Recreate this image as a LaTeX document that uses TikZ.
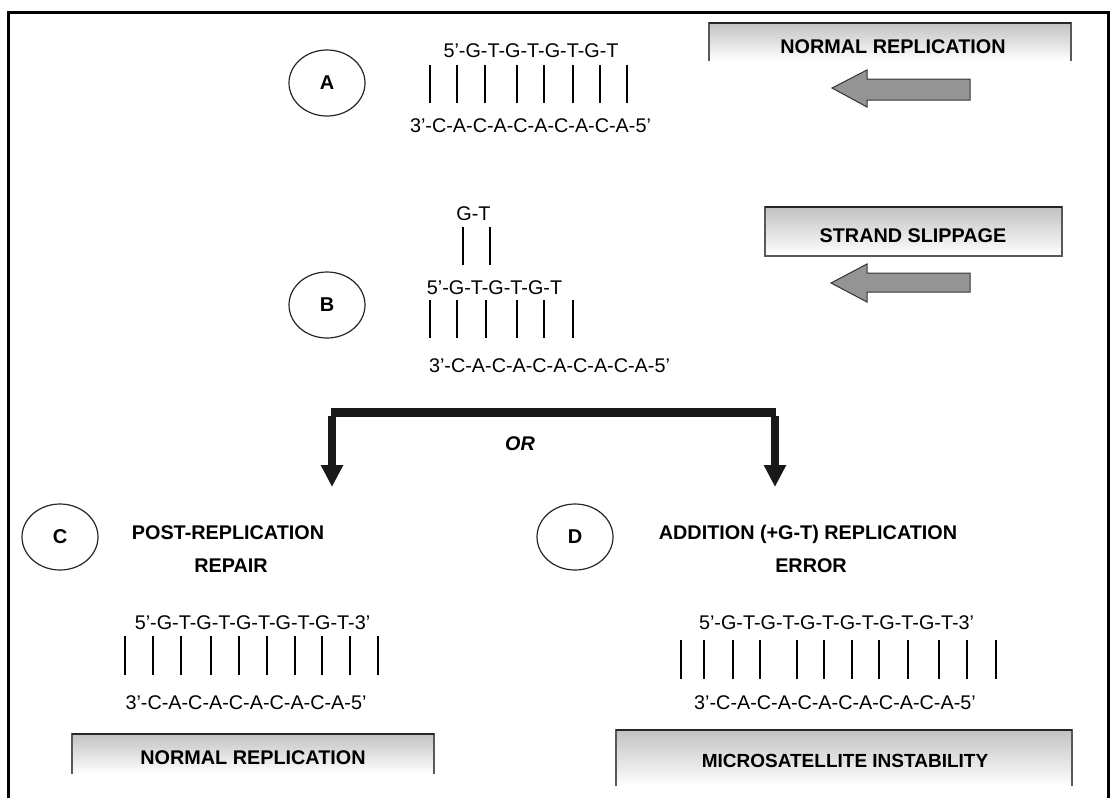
\documentclass[tikz,border=0pt]{standalone}
\usepackage{fontspec}
\setmainfont{Liberation Sans}
\usetikzlibrary{shapes.geometric,arrows.meta}
\tikzset{
  dna/.style={font=\fontsize{19.8}{24}\selectfont, anchor=base, inner sep=0pt},
  lab/.style={font=\fontsize{19.8}{24}\selectfont\bfseries, anchor=base, inner sep=0pt},
  circ/.style={ellipse, draw=black!85, line width=1.2pt, minimum width=76pt, minimum height=66pt, inner sep=0pt, font=\fontsize{20}{24}\selectfont\bfseries},
  bp/.style={line width=2pt, black},
  boxshade/.style={top color=black!24, bottom color=white},
  boxside/.style={line width=1.4pt, black!65},
  boxtop/.style={line width=2pt, black!85},
  grayarrow/.style={fill=black!42, draw=black!80, line width=1pt, line join=miter},
  fork/.style={line width=9pt, black!90},
  forkarrow/.style={line width=8pt, black!90, -{Triangle[width=21pt,length=22pt]}}
}
\begin{document}
\begin{tikzpicture}[x=1pt,y=-1pt]
\useasboundingbox (0,0) rectangle (1112,798);
% frame
\draw[line width=3pt] (8,798) -- (8,12.5) -- (1108,12.5) -- (1108,798);

% ---------- A ----------
\node[circ] (A) at (327,83) {A};
\node[dna] (Atop) at (531,57) {5’-G-T-G-T-G-T-G-T};
\node[dna] (Abot) at (530.5,132) {3’-C-A-C-A-C-A-C-A-C-A-5’};
\foreach \x in {430,457,485,517,544,573,600,627} \draw[bp] (\x,65) -- (\x,103);

% box NORMAL REPLICATION (top)
\shade[boxshade] (709,23) rectangle (1071,61);
\draw[boxside] (709,61) -- (709,23) -- (1071,23) -- (1071,61);
\draw[boxtop] (709,23) -- (1071,23);
\node[lab] (nr1) at (893,53) {NORMAL REPLICATION};
\draw[grayarrow] (832,88) -- (867,70) -- (867,79) -- (970,79) -- (970,100) -- (867,100) -- (867,107) -- cycle;

% ---------- B ----------
\node[circ] (B) at (327,305) {B};
\node[dna] (Bgt) at (473.5,220) {G-T};
\foreach \x in {463,490} \draw[bp] (\x,227) -- (\x,265);
\node[dna] (Btop) at (494.5,294) {5’-G-T-G-T-G-T};
\foreach \x in {430,457,486,517,544,573} \draw[bp] (\x,300) -- (\x,338);
\node[dna] (Bbot) at (549.5,372) {3’-C-A-C-A-C-A-C-A-C-A-5’};

% box STRAND SLIPPAGE
\shade[boxshade] (765,207) rectangle (1062,256);
\draw[boxside] (765,207) rectangle (1062,256);
\draw[boxtop] (765,207) -- (1062,207);
\node[lab] (ss) at (913,242) {STRAND SLIPPAGE};
\draw[grayarrow] (831,283) -- (867,264) -- (867,273) -- (970,273) -- (970,292) -- (867,292) -- (867,302) -- cycle;

% ---------- fork ----------
\coordinate (fL) at (331,412.5);
\coordinate (fR) at (776,412.5);
\draw[fork] (fL) -- (fR);
\coordinate (aLs) at (332,416);
\coordinate (aLe) at (332,487);
\coordinate (aRs) at (775,416);
\coordinate (aRe) at (775,487);
\draw[forkarrow] (aLs) -- (aLe);
\draw[forkarrow] (aRs) -- (aRe);
\node[font=\fontsize{19.8}{24}\selectfont\bfseries\itshape, anchor=base, inner sep=0pt] (or) at (520,450) {OR};

% ---------- C ----------
\node[circ] (C) at (60,537) {C};
\node[lab] (Cl1) at (228,539) {POST-REPLICATION};
\node[lab] (Cl2) at (231,572) {REPAIR};
\node[dna] (Ctop) at (252.5,629) {5’-G-T-G-T-G-T-G-T-G-T-3’};
\foreach \x in {125,153,181,211,239,267,295,322,350,378} \draw[bp] (\x,636) -- (\x,675);
\node[dna] (Cbot) at (246,709) {3’-C-A-C-A-C-A-C-A-C-A-5’};
\shade[boxshade] (72,734) rectangle (434,774);
\draw[boxside] (72,774) -- (72,734) -- (434,734) -- (434,774);
\draw[boxtop] (72,734) -- (434,734);
\node[lab] (nr2) at (253,764) {NORMAL REPLICATION};

% ---------- D ----------
\node[circ] (D) at (575,537) {D};
\node[lab] (Dl1) at (808,539) {ADDITION (+G-T) REPLICATION};
\node[lab] (Dl2) at (811,572) {ERROR};
\node[dna] (Dtop) at (836.5,629) {5’-G-T-G-T-G-T-G-T-G-T-G-T-3’};
\foreach \x in {681,704,733,760,797,824,852,879,908,939,967,996} \draw[bp] (\x,640) -- (\x,679);
\node[dna] (Dbot) at (835,709) {3’-C-A-C-A-C-A-C-A-C-A-C-A-5’};
\shade[boxshade] (616,730) rectangle (1072,786);
\draw[boxside] (616,786) -- (616,730) -- (1072,730) -- (1072,786);
\draw[boxtop] (616,730) -- (1072,730);
\node[lab, font=\fontsize{19}{24}\selectfont\bfseries] (msi) at (845,767) {MICROSATELLITE INSTABILITY};
\end{tikzpicture}
\end{document}
